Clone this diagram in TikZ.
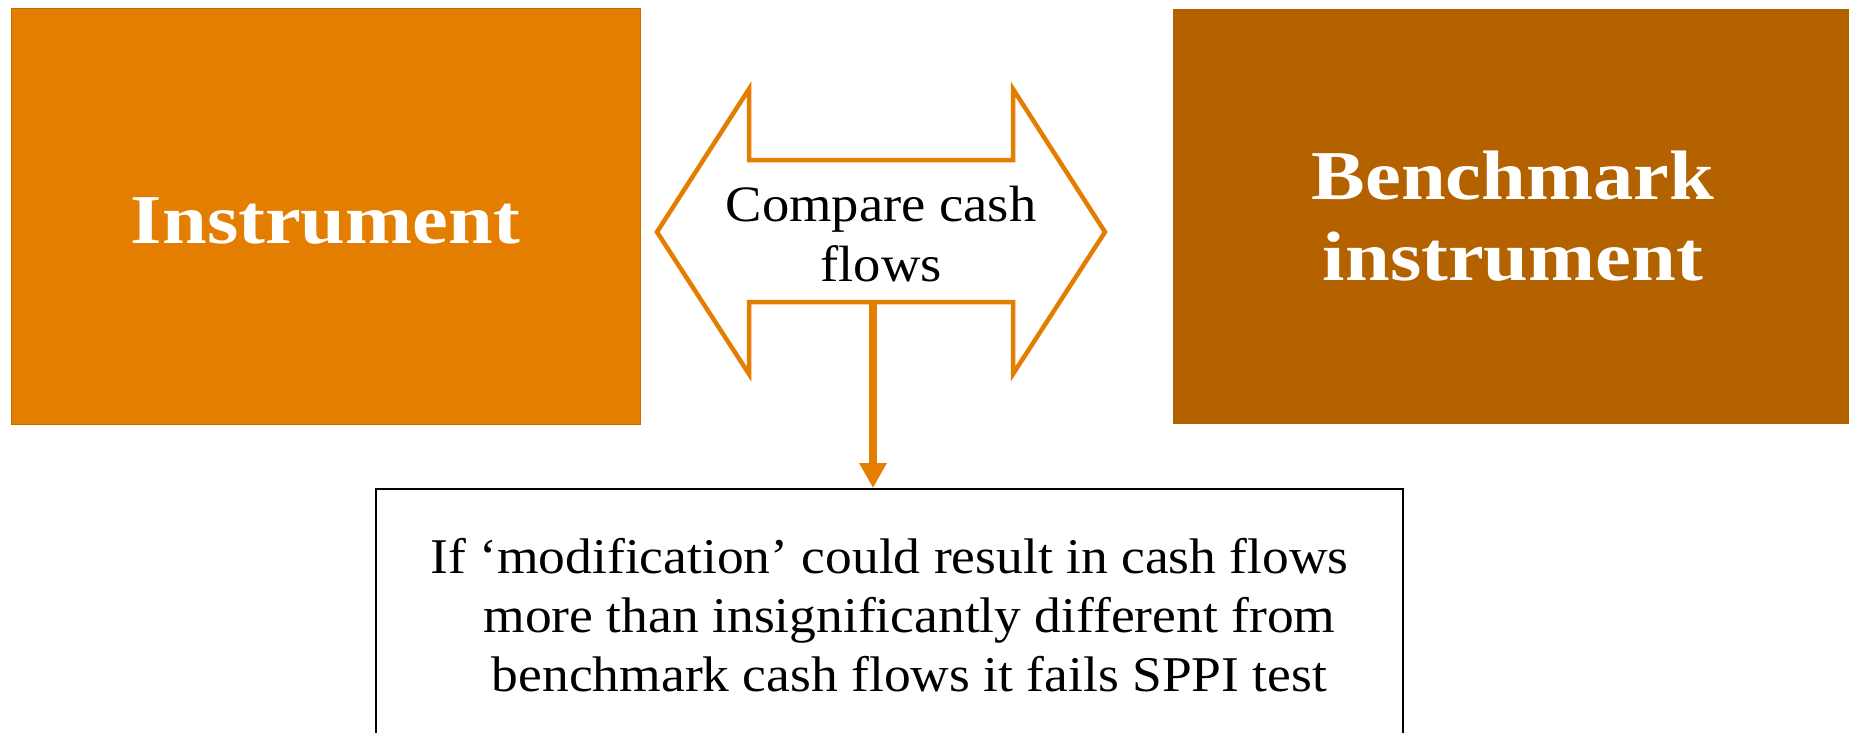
\documentclass[tikz,border=0pt]{standalone}
\usepackage{fontspec}
\setmainfont{Liberation Serif}
\newfontfamily\bw[FakeStretch=1.15]{Liberation Serif}
\newfontfamily\rw[FakeStretch=1.07]{Liberation Serif}
\usetikzlibrary{arrows.meta}
\definecolor{orangeA}{RGB}{228,126,0}
\definecolor{orangeB}{RGB}{180,98,0}
\definecolor{orangeEdge}{RGB}{196,106,0}
\tikzset{
  mainbox/.style={rectangle, inner sep=0pt, text=white, align=center,
    font=\bw\bfseries\fontsize{70}{81}\selectfont},
  outline/.style={draw=orangeA, line width=4.5pt, line join=miter, fill=white},
  downarr/.style={draw=orangeA, line width=8pt,
    -{Triangle[width=26pt,length=25pt]}},
  resbox/.style={rectangle, draw=black, line width=2pt, fill=white, inner sep=0pt,
    align=center, font=\rw\fontsize{50}{59}\selectfont},
}
\begin{document}
\begin{tikzpicture}[x=1pt,y=-1pt]
\useasboundingbox (0,0) rectangle (1849,733);
\begin{scope}
\clip (0,0) rectangle (1849,733);
\fill[white] (0,0) rectangle (1849,733);
% left box
\node[mainbox, fill=orangeA, draw=orangeEdge, line width=1pt,
  minimum width=629pt, minimum height=415pt, text height=53pt, text depth=0pt]
  (inst) at (325.5,216.5) {Instrument};
% right box
\node[mainbox, fill=orangeB, minimum width=680pt, minimum height=415pt]
  (bench) at (1513,216.5) {Benchmark\\instrument};
% double arrow outline
\draw[outline] (657,232) -- (749,89) -- (749,160) -- (1013,160) -- (1013,89)
  -- (1105,232) -- (1013,374) -- (1013,302) -- (749,302) -- (749,374) -- cycle;
\node[inner sep=0pt, align=center, font=\rw\fontsize{51}{60}\selectfont]
  (cmp) at (881,234.5) {Compare cash\\flows};
\coordinate (shaftbot) at (873,302);
% result box
\node[resbox, minimum width=1027pt, minimum height=252pt]
  (res) at (889.5,615) {If ‘modification’ could result in cash flows\\
  \hspace*{40pt}more than insignificantly different from\\
  \hspace*{40pt}benchmark cash flows it fails SPPI test};
\draw[downarr] (shaftbot) -- (shaftbot |- res.north);
\end{scope}
\end{tikzpicture}
\end{document}
